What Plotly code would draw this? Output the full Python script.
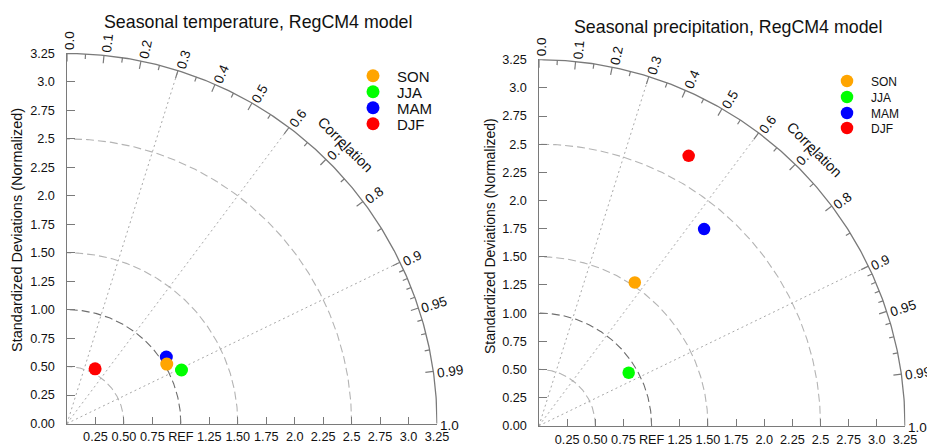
import numpy as np
import plotly.graph_objects as go

W, H = 927, 446

# ---------------- data ----------------
seasons = ["SON", "JJA", "MAM", "DJF"]
season_colors = ["#FFA500", "#00FF00", "#0000FF", "#FF0000"]

# normalized standard deviation and correlation, temperature panel
temp_std = [1.02, 1.11, 1.05, 0.54]
temp_corr = [0.859, 0.906, 0.831, 0.457]

# normalized standard deviation and correlation, precipitation panel
prec_std = [1.53, 0.925, 2.28, 2.74]
prec_corr = [0.556, 0.861, 0.643, 0.485]

std_max = 3.25
y_tickvals = [0.0, 0.25, 0.5, 0.75, 1.0, 1.25, 1.5, 1.75, 2.0, 2.25, 2.5, 2.75, 3.0, 3.25]
y_ticktext = ["0.00", "0.25", "0.50", "0.75", "1.00", "1.25", "1.50", "1.75",
              "2.0", "2.25", "2.5", "2.75", "3.0", "3.25"]
x_tickvals = [0.25, 0.5, 0.75, 1.0, 1.25, 1.5, 1.75, 2.0, 2.25, 2.5, 2.75, 3.0, 3.25]
x_ticktext = ["0.25", "0.50", "0.75", "REF", "1.25", "1.50", "1.75",
              "2.0", "2.25", "2.5", "2.75", "3.0", "3.25"]

corr_major = [0.0, 0.1, 0.2, 0.3, 0.4, 0.5, 0.6, 0.7, 0.8, 0.9, 0.95, 0.99]
corr_major_text = ["0.0", "0.1", "0.2", "0.3", "0.4", "0.5", "0.6", "0.7", "0.8", "0.9", "0.95", "0.99"]
corr_minor = [0.05, 0.15, 0.25, 0.35, 0.45, 0.55, 0.65, 0.75, 0.85,
              0.91, 0.92, 0.93, 0.94, 0.96, 0.97, 0.98]
corr_end = 1.0
corr_end_text = "1.0"
std_arcs = [0.5, 1.5, 2.5]
ref_std = 1.0
corr_rays = [0.3, 0.6, 0.9]

titles = ["Seasonal temperature, RegCM4 model", "Seasonal precipitation, RegCM4 model"]
ytitle = "Standardized Deviations (Normalized)"
corr_title = "Correlation"

# ---------------- styling / layout ----------------
FONT = "Liberation Sans, Arial, Helvetica, sans-serif"
AX = "#7a7a7a"
TXT = "#111111"
PAD = 0.004

panels = [
    dict(std=temp_std, corr=temp_corr, ox=67.0, oy=423.5, R=370.0,
         title_px=(257.5, 22.0), ytitle_px=(17.0, 230.0), ytitle_size=14.5,
         leg_x=373.0, leg_y=[76.0, 92.0, 108.0, 124.0], leg_font=15, msize=13),
    dict(std=prec_std, corr=prec_corr, ox=539.0, oy=425.7, R=366.0,
         title_px=(728.3, 27.0), ytitle_px=(490.0, 236.0), ytitle_size=14,
         leg_x=847.0, leg_y=[81.0, 97.0, 113.0, 128.0], leg_font=12, msize=12.5),
]

fig = go.Figure()
annotations = []
layout_upd = {}


def arc_xy(r, c0=0.0, c1=1.0, n=240):
    t = np.linspace(np.arccos(c1), np.arccos(c0), n)
    return r * np.cos(t), r * np.sin(t)


for pi, P in enumerate(panels):
    sfx = "" if pi == 0 else str(pi + 1)
    xa, ya = "x" + sfx, "y" + sfx
    pxu = P["R"] / std_max

    def to_paper(x, y, P=P, pxu=pxu):
        return (P["ox"] + x * pxu) / W, 1 - (P["oy"] - y * pxu) / H

    # domains
    x0 = P["ox"] - PAD * pxu
    x1 = P["ox"] + (std_max + PAD) * pxu
    yb = P["oy"] + PAD * pxu
    yt = P["oy"] - (std_max + PAD) * pxu
    xdom = [x0 / W, x1 / W]
    ydom = [1 - yb / H, 1 - yt / H]

    tickfont = dict(family=FONT, size=12.7, color=TXT)
    layout_upd["xaxis" + sfx] = dict(
        domain=xdom, range=[-PAD, std_max + PAD], anchor=ya,
        showgrid=False, zeroline=False, showline=True, linecolor=AX, linewidth=1.3,
        ticks="inside", ticklen=7, tickwidth=1.2, tickcolor=AX,
        tickmode="array", tickvals=x_tickvals, ticktext=x_ticktext,
        tickfont=tickfont, ticklabelstandoff=1, fixedrange=True, automargin=False)
    layout_upd["yaxis" + sfx] = dict(
        domain=ydom, range=[-PAD, std_max + PAD], anchor=xa,
        showgrid=False, zeroline=False, showline=True, linecolor=AX, linewidth=1.3,
        ticks="inside", ticklen=8, tickwidth=1.2, tickcolor=AX,
        tickmode="array", tickvals=y_tickvals, ticktext=y_ticktext,
        tickfont=tickfont, ticklabelstandoff=8, fixedrange=True, automargin=False)

    # dashed std arcs
    for r in std_arcs:
        ax_, ay_ = arc_xy(r)
        fig.add_trace(go.Scatter(x=ax_, y=ay_, mode="lines", xaxis=xa, yaxis=ya,
                                 line=dict(color="#b4b4b4", width=1.1, dash="8px,4px"),
                                 hoverinfo="skip", showlegend=False))
    ax_, ay_ = arc_xy(ref_std)
    fig.add_trace(go.Scatter(x=ax_, y=ay_, mode="lines", xaxis=xa, yaxis=ya,
                             line=dict(color="#6e6e6e", width=1.1, dash="8px,4px"),
                             hoverinfo="skip", showlegend=False))

    # dotted correlation rays
    rx, ry = [], []
    for c in corr_rays:
        t = np.arccos(c)
        rx += [0.0, std_max * np.cos(t), None]
        ry += [0.0, std_max * np.sin(t), None]
    fig.add_trace(go.Scatter(x=rx, y=ry, mode="lines", xaxis=xa, yaxis=ya,
                             line=dict(color="#a8a8a8", width=1.0, dash="2px,3px"),
                             hoverinfo="skip", showlegend=False))

    # outer arc
    ax_, ay_ = arc_xy(std_max)
    fig.add_trace(go.Scatter(x=ax_, y=ay_, mode="lines", xaxis=xa, yaxis=ya,
                             line=dict(color=AX, width=1.3),
                             hoverinfo="skip", showlegend=False))

    # ticks on outer arc
    tx, ty = [], []
    for clist, L in ((corr_major, 8.0), (corr_minor, 5.0)):
        for c in clist:
            t = np.arccos(c)
            r0 = std_max - L / pxu
            tx += [r0 * np.cos(t), std_max * np.cos(t), None]
            ty += [r0 * np.sin(t), std_max * np.sin(t), None]
    fig.add_trace(go.Scatter(x=tx, y=ty, mode="lines", xaxis=xa, yaxis=ya,
                             line=dict(color=AX, width=1.2),
                             hoverinfo="skip", showlegend=False))

    # correlation labels (positioned in paper space so they may sit outside the axes)
    lab_fs = 13.5
    for c, txt in list(zip(corr_major, corr_major_text)) + [(corr_end, corr_end_text)]:
        t = np.arccos(c)
        nd = sum(ch.isdigit() for ch in txt)
        npnt = txt.count(".")
        w = lab_fs * (0.556 * nd + 0.278 * npnt)
        d = std_max + (3.0 + w / 2) / pxu
        s = 2.0 / pxu
        cx = d * np.cos(t) + s * np.sin(t)
        cy = d * np.sin(t) - s * np.cos(t)
        px_, py_ = to_paper(cx, cy)
        annotations.append(dict(x=px_, y=py_, xref="paper", yref="paper", text=txt, showarrow=False,
                                textangle=-np.degrees(t), xanchor="center", yanchor="middle",
                                font=dict(family=FONT, size=lab_fs, color=TXT)))
    # "Correlation" title along arc
    tc = np.radians(45.0)
    rc = 3.465
    px_, py_ = to_paper(rc * np.cos(tc), rc * np.sin(tc))
    annotations.append(dict(x=px_, y=py_, xref="paper", yref="paper",
                            text=corr_title, showarrow=False, textangle=45,
                            xanchor="center", yanchor="middle",
                            font=dict(family=FONT, size=14.5, color=TXT)))

    # titles
    annotations.append(dict(x=P["title_px"][0] / W, y=1 - P["title_px"][1] / H,
                            xref="paper", yref="paper", text=titles[pi], showarrow=False,
                            xanchor="center", yanchor="middle",
                            font=dict(family=FONT, size=17.8, color=TXT)))
    annotations.append(dict(x=P["ytitle_px"][0] / W, y=1 - P["ytitle_px"][1] / H,
                            xref="paper", yref="paper", text=ytitle, showarrow=False,
                            textangle=-90, xanchor="center", yanchor="middle",
                            font=dict(family=FONT, size=P["ytitle_size"], color=TXT)))

    # data points: drawn DJF, MAM, JJA, SON (SON on top)
    std = np.array(P["std"])
    corr = np.array(P["corr"])
    theta = np.arccos(corr)
    for k in [3, 2, 1, 0]:
        idx = pi * 4 + k + 1
        lname = "legend" if idx == 1 else "legend" + str(idx)
        fig.add_trace(go.Scatter(
            x=[std[k] * np.cos(theta[k])], y=[std[k] * np.sin(theta[k])],
            mode="markers", xaxis=xa, yaxis=ya, name=seasons[k], legend=lname,
            marker=dict(color=season_colors[k], size=P["msize"], line=dict(width=0)),
            cliponaxis=False, showlegend=True))
        layout_upd[lname] = dict(
            x=(P["leg_x"] - 24) / W, y=1 - P["leg_y"][k] / H,
            xanchor="left", yanchor="middle", bgcolor="rgba(0,0,0,0)", borderwidth=0,
            itemwidth=38, font=dict(family=FONT, size=P["leg_font"], color=TXT))

fig.update_layout(
    width=W, height=H, margin=dict(l=0, r=0, t=0, b=0, autoexpand=False),
    paper_bgcolor="white", plot_bgcolor="white",
    annotations=annotations, **layout_upd)

fig.write_html("out.html", config={"displayModeBar": False},
               post_script="document.body.style.margin='0';document.body.style.overflow='hidden';")
